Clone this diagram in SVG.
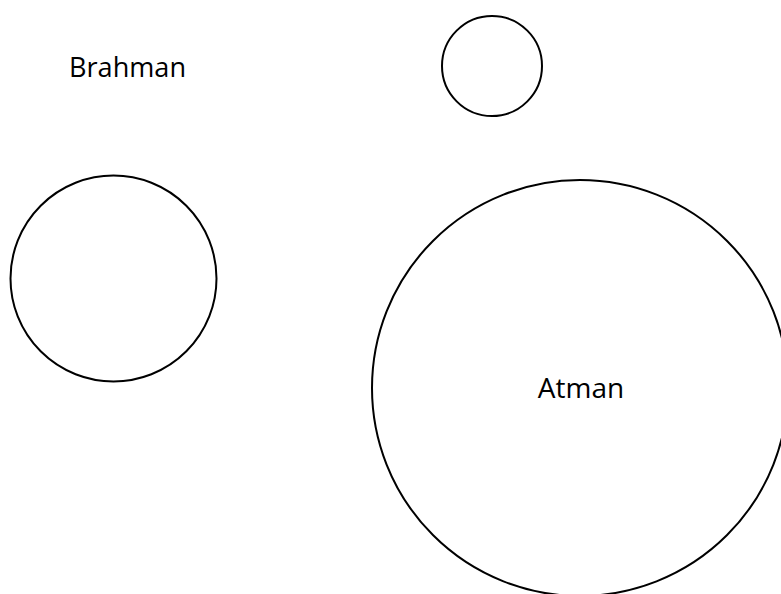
<svg xmlns="http://www.w3.org/2000/svg" width="781" height="594" viewBox="0 0 781 594">
<style>
.c{fill:#fff;stroke:#000;stroke-width:2}
.t{font-family:"Open Sans","Noto Sans",sans-serif;font-size:28px;fill:#000}
</style>
<rect width="781" height="594" fill="#fff"/>
<g id="brahman-label"><text class="t" x="69" y="77" textLength="117" lengthAdjust="spacingAndGlyphs">Brahman</text></g>
<g id="small-circle"><circle class="c" cx="492" cy="66" r="50"/></g>
<g id="left-circle"><circle class="c" cx="113.5" cy="278.5" r="103"/></g>
<g id="atman"><circle class="c" cx="580" cy="388" r="208"/><text class="t" x="581" y="398" text-anchor="middle">Atman</text></g>
<g id="connectors"/>
</svg>
